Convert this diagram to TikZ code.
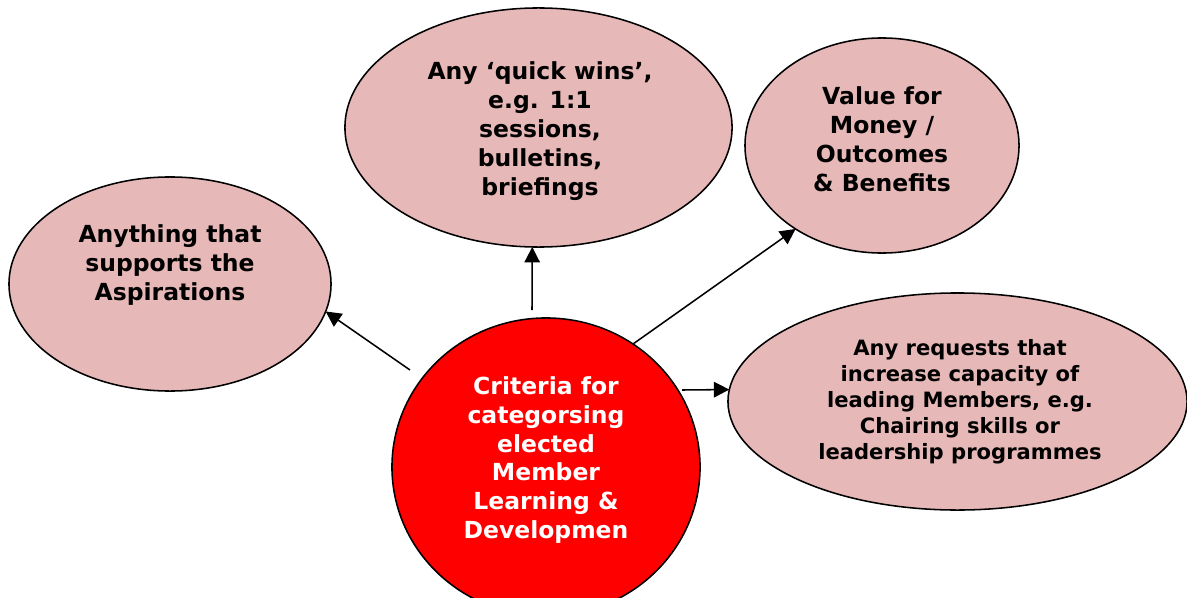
\documentclass[tikz,border=0pt]{standalone}
\usepackage{fontspec}
\setmainfont{DejaVu Sans}
\usetikzlibrary{shapes.geometric,arrows.meta}
\definecolor{bubblepink}{RGB}{230,184,183}
\definecolor{hubred}{RGB}{255,0,0}

\begin{document}
\begin{tikzpicture}[x=0.025cm,y=-0.025cm,
		bubble/.style={ellipse,draw=black,line width=1.1pt,fill=bubblepink,inner sep=0pt,outer sep=0pt},
		hub/.style={bubble,fill=hubred},
		bubbletext/.style={align=center,inner sep=0pt,font=\bfseries\fontsize{16.7}{20.6}\selectfont},
		smalltext/.style={bubbletext,font=\bfseries\fontsize{15}{18.5}\selectfont},
		arr/.style={line width=1.1pt,-{Triangle[length=11pt,width=11pt]}}]
		\useasboundingbox (0,0) rectangle (1187,597);
		% the four outer bubbles
		\node[bubble,minimum width=8.05cm,minimum height=5.35cm] (asp) at (170,284) {};
		\node[bubbletext] (aspText) at (170,265) {Anything that\\supports the\\Aspirations};
		\node[bubble,minimum width=9.675cm,minimum height=5.975cm] (quick) at (538.5,127.5) {};
		\node[bubbletext] (quickText) at (540,131) {Any ‘quick wins’,\\e.g. 1:1\\sessions,\\bulletins,\\briefings};
		\node[bubble,minimum width=6.85cm,minimum height=5.375cm] (value) at (882,145.5) {};
		\node[bubbletext] (valueText) at (882,139.5) {Value for\\Money /\\Outcomes\\\& Benefits};
		\node[bubble,minimum width=11.475cm,minimum height=5.425cm] (req) at (957.5,401.5) {};
		\node[smalltext] (reqText) at (960,401.5) {Any requests that\\increase capacity of\\leading Members, e.g.\\Chairing skills or\\leadership programmes};
		% red hub in the middle
		\node[hub,minimum width=7.7cm,minimum height=7.45cm] (crit) at (546,467) {};
		\node[bubbletext,text=white] (critText) at (546,460) {Criteria for\\categorsing\\elected\\Member\\Learning \&\\Developmen};
		% arrows start just off the hub
		\coordinate (fromAsp) at (410,370);
		\coordinate (fromQuick) at (532,310);
		\coordinate (fromValue) at (633,344);
		\coordinate (fromReq) at (682,390);
		\foreach \from/\to in {fromAsp/asp.-10,fromQuick/quick.-93,fromValue/value.224,fromReq/req.177}
		\draw[arr] (\from) -- (\to);
	\end{tikzpicture}
\end{document}
